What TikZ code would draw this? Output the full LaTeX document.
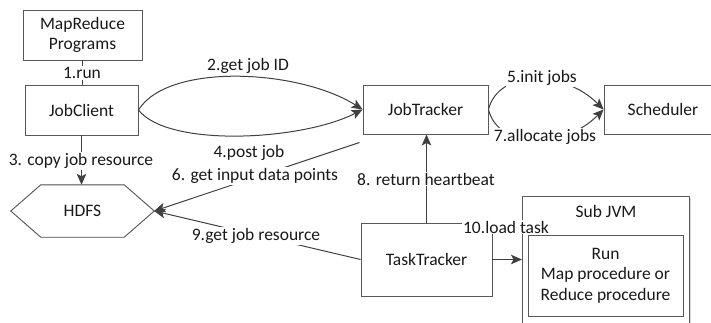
\documentclass[tikz,border=0pt]{standalone}
\usepackage{fontspec}
\setmainfont{Carlito}
\usetikzlibrary{arrows.meta,calc,shadows}
\begin{document}
\begin{tikzpicture}[x=1pt,y=-1pt,
  font=\fontsize{17.5}{20.5}\selectfont,
  text=black!90,
  box/.style={draw=black!65, line width=0.9pt, fill=white, inner sep=0pt, align=center,
    general shadow={fill=black!15, shadow xshift=1.4pt, shadow yshift=-1.4pt}},
  conn/.style={draw=black!75, line width=1pt},
  arr/.style={conn, -{Stealth[length=11pt,width=9.5pt,inset=2.5pt]}},
  lbl/.style={fill=white, inner sep=1pt},
]
\useasboundingbox (0,0) rectangle (711,322);
\clip (0,0) rectangle (711,322);

% processes
\node[box, minimum width=119pt, minimum height=50pt] (mr) at (82.5,35) {MapReduce\\Programs};
\node[box, minimum width=113pt, minimum height=50pt] (jc) at (81.5,110) {JobClient};
\node[box, minimum width=125pt, minimum height=49pt] (jt) at (425.5,109.5) {JobTracker};
\node[box, minimum width=118pt, minimum height=49pt] (sch) at (663,109.5) {Scheduler};
\node[box, minimum width=131pt, minimum height=73pt] (tt) at (426.5,259.5) {TaskTracker};

% child JVM with its task
\node[box, minimum width=167pt, minimum height=150pt, anchor=north west] (jvm) at (522,196) {};
\node (jvmtitle) at (606,211) {Sub JVM};
\node[box, minimum width=155pt, minimum height=81pt] (run) at (605.5,275.5) {Run\\Map procedure or\\Reduce procedure};

% HDFS hexagon
\node[inner sep=0pt, minimum width=143pt, minimum height=52pt] (hdfs) at (82.5,211) {};
\draw[black!18, line width=0.9pt, shift={(1.4,1.4)}]
  (hdfs.west) -- ($(hdfs.north west)+(30,0)$) -- ($(hdfs.north east)+(-30,0)$) -- (hdfs.east)
  -- ($(hdfs.south east)+(-30,0)$) -- ($(hdfs.south west)+(30,0)$) -- cycle;
\draw[black!65, line width=0.9pt, fill=white]
  (hdfs.west) -- ($(hdfs.north west)+(30,0)$) -- ($(hdfs.north east)+(-30,0)$) -- (hdfs.east)
  -- ($(hdfs.south east)+(-30,0)$) -- ($(hdfs.south west)+(30,0)$) -- cycle;
\node (hdfstext) at (hdfs.center) {HDFS};

% connectors
\draw[conn] (mr.south) -- (mr.south |- jc.north);
\draw[arr] (jc.east) .. controls +(30,-48) and +(-63,-40) .. (jt.west);
\draw[arr] (jc.east) .. controls +(30,38) and +(-60,31) .. (jt.west);
\draw[arr] (jc.south) -- (jc.south |- hdfs.north);
\coordinate (jtpost) at ($(jt.south west)+(-3,8)$);
\draw[arr] (jtpost) -- (hdfs.east);
\draw[arr] (tt.north) -- (tt.north |- jt.south);
\draw[arr] (tt.west) -- (hdfs.east);
\draw[arr] (jt.east) .. controls +(10,-40) and +(-40,-40) .. (sch.west);
\draw[arr] (jt.east) .. controls +(10,40) and +(-40,40) .. (sch.west);
\draw[arr] (tt.east) -- (tt.east -| jvm.west);

% step labels
\node[lbl] (l1) at (82,73) {1.run};
\node (l2) at (248,66) {2.get job ID};
\node[lbl] (l3) at (81,161) {3. copy job resource};
\node[lbl] (l4) at (249,153) {4.post job};
\node[lbl] (l5) at (542,78) {5.init jobs};
\node[lbl] (l6) at (255,176) {6. get input data points};
\node[lbl] (l7) at (545,137) {7.allocate jobs};
\node[lbl] (l8) at (426,179) {8. return heartbeat};
\node[lbl] (l9) at (256,236) {9.get job resource};
\node[lbl] (l10) at (506,227) {10.load task};
\end{tikzpicture}
\end{document}
